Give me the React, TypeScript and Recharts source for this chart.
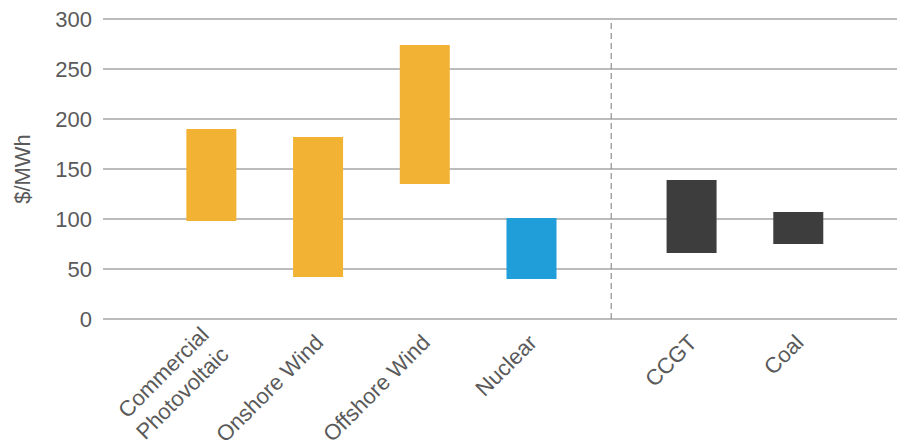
import { BarChart, Bar, XAxis, YAxis, CartesianGrid, Cell, ReferenceLine } from 'recharts'

const categories = ['Commercial\nPhotovoltaic', 'Onshore Wind', 'Offshore Wind', 'Nuclear', 'CCGT', 'Coal']
const groups = ['renewable', 'renewable', 'renewable', 'nuclear', 'fossil', 'fossil']
const lowValues = [98, 42, 135, 40, 66, 75]
const highValues = [190, 182, 274, 101, 139, 107]
const yTicks = [0, 50, 100, 150, 200, 250, 300]

const COLORS: Record<string, string> = {
  renewable: '#F2B233',
  nuclear: '#1F9ED9',
  fossil: '#3D3D3D',
}

const FONT = '"Liberation Sans", Arial, sans-serif'
const TEXT = '#5a5a5a'

// spacer slots give the half-band gaps and the divider before the fossil group
const data: any[] = []
categories.forEach((name, i) => {
  if (groups[i] === 'fossil' && groups[i - 1] !== 'fossil') data.push({ key: '_divider' })
  data.push({ key: '_gap' + i })
  data.push({ key: name, range: [lowValues[i], highValues[i]], group: groups[i] })
})
data.push({ key: '_end' })

const CategoryTick = ({ x, y, payload }: any) => {
  const value: string = payload?.value ?? ''
  if (!value || value.startsWith('_')) return null
  const lines = value.split('\n')
  const lineH = 28
  const first = lines.length > 1 ? 10 - ((lines.length - 1) * lineH) / 2 : 7
  return (
    <g transform={`translate(${x + 2},${y + 12})`}>
      <text transform="rotate(-45)" textAnchor="end" fill={TEXT} fontSize={22} fontFamily={FONT}>
        {lines.map((l, i) => (
          <tspan key={i} x={0} dy={i === 0 ? first : lineH}>
            {l}
          </tspan>
        ))}
      </text>
    </g>
  )
}

const YLabel = ({ viewBox }: any) => {
  const cx = viewBox.x + 30
  const cy = viewBox.y + viewBox.height / 2
  return (
    <text x={cx} y={cy} transform={`rotate(-90, ${cx}, ${cy})`} textAnchor="middle"
      fill={TEXT} fontSize={22} fontFamily={FONT}>
      $/MWh
    </text>
  )
}

export default function App() {
  return (
    <div style={{ width: 897, height: 447, background: '#fff' }}>
      <style>{'body{margin:0}'}</style>
      <BarChart width={897} height={447} data={data} margin={{ top: 19, right: 0, bottom: 0, left: 0 }}>
        <CartesianGrid vertical={false} stroke="#a6a6a6" strokeWidth={1.3} />
        <XAxis
          dataKey="key"
          interval={0}
          tickLine={false}
          axisLine={false}
          padding={{ left: 28, right: 19 }}
          tick={<CategoryTick />}
          height={128}
        />
        <YAxis
          width={103}
          domain={[0, 300]}
          ticks={yTicks}
          interval={0}
          tickLine={false}
          axisLine={false}
          tickSize={0}
          tickMargin={11}
          tick={{ fill: TEXT, fontSize: 22, fontFamily: FONT }}
          label={<YLabel />}
        />
        <ReferenceLine x="_divider" position="end" stroke="#8f8f8f" strokeDasharray="6 4" strokeWidth={1.2} />
        <Bar dataKey="range" barSize={50} isAnimationActive={false}>
          {data.map((d, i) => (
            <Cell key={i} fill={COLORS[d.group] ?? 'transparent'} />
          ))}
        </Bar>
      </BarChart>
    </div>
  )
}
